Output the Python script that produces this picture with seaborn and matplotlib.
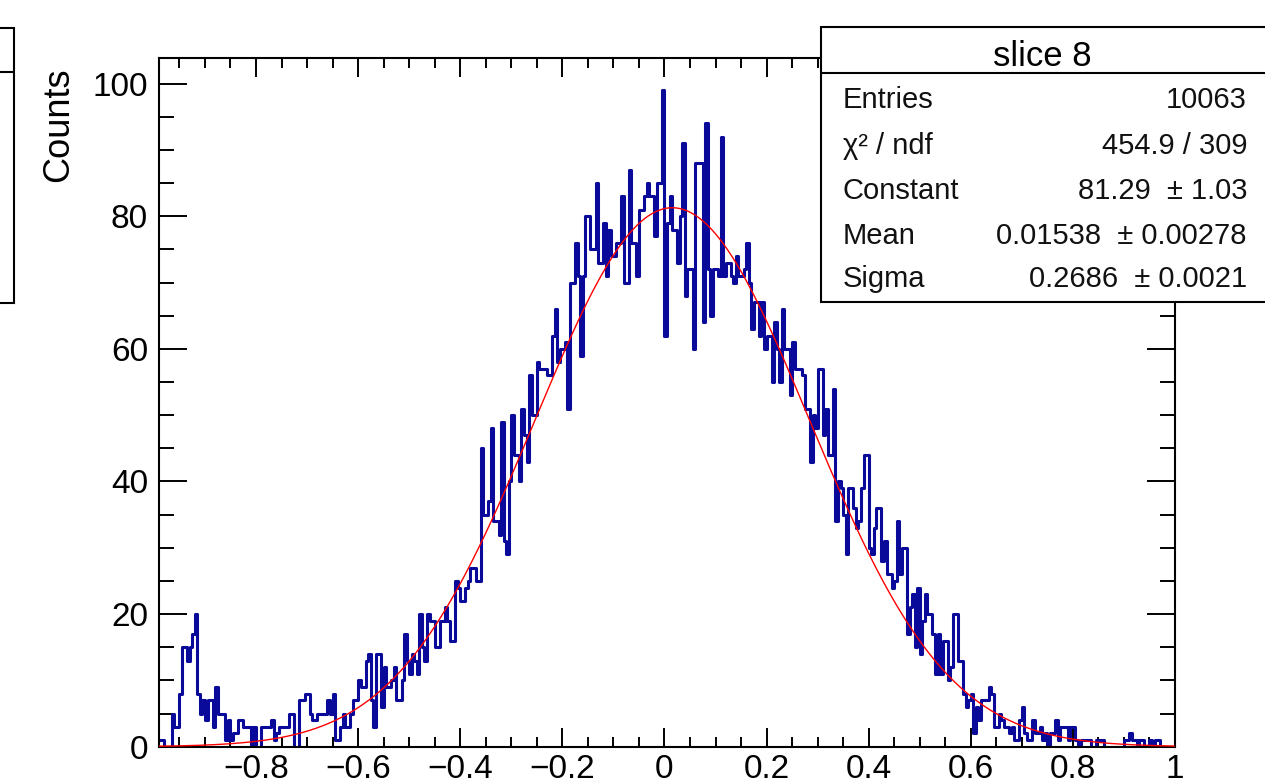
import numpy as np
import pandas as pd
import matplotlib
matplotlib.use("Agg")
import matplotlib.pyplot as plt
from matplotlib.patches import Rectangle
from matplotlib.lines import Line2D
from matplotlib.ticker import FixedLocator, MultipleLocator
import seaborn as sns

# Slice 8 residual histogram: bins of width 0.005 starting at -0.99
X_MIN = -0.99
X_MAX = 1.0
BIN_WIDTH = 0.005
counts = [
    1, 1, 0, 0, 0, 5, 3, 3, 8, 15,
    15, 13, 15, 17, 20, 8, 5, 7, 4, 7,
    7, 3, 9, 5, 5, 5, 1, 4, 1, 2,
    2, 4, 4, 3, 3, 3, 0, 3, 0, 0,
    3, 3, 3, 3, 4, 1, 2, 3, 3, 3,
    3, 5, 5, 0, 0, 7, 7, 8, 8, 5,
    4, 4, 5, 5, 5, 5, 7, 5, 8, 1,
    1, 3, 5, 3, 3, 5, 7, 7, 10, 9,
    9, 13, 14, 7, 3, 14, 14, 6, 12, 9,
    9, 10, 12, 7, 7, 10, 17, 13, 11, 14,
    13, 11, 20, 15, 13, 20, 19, 19, 15, 15,
    19, 19, 21, 19, 16, 16, 25, 24, 22, 22,
    24, 25, 27, 27, 25, 25, 45, 35, 35, 37,
    48, 34, 34, 32, 49, 31, 29, 40, 50, 44,
    44, 40, 51, 47, 43, 56, 50, 50, 58, 57,
    57, 57, 56, 56, 62, 66, 58, 60, 60, 61,
    51, 70, 70, 76, 71, 59, 71, 80, 80, 75,
    75, 85, 73, 73, 79, 71, 78, 74, 74, 76,
    76, 83, 70, 70, 87, 76, 76, 71, 81, 81,
    83, 85, 83, 83, 77, 85, 85, 99, 62, 79,
    83, 78, 78, 73, 80, 91, 68, 72, 72, 60,
    88, 88, 88, 64, 94, 72, 65, 72, 72, 71,
    92, 71, 73, 73, 71, 70, 74, 71, 71, 72,
    76, 70, 63, 67, 67, 62, 67, 60, 62, 62,
    55, 64, 60, 55, 66, 60, 60, 53, 61, 57,
    57, 57, 56, 51, 51, 43, 50, 48, 57, 57,
    47, 51, 44, 44, 54, 34, 40, 39, 35, 29,
    39, 39, 36, 33, 34, 39, 44, 44, 30, 29,
    33, 36, 36, 28, 31, 26, 26, 24, 25, 34,
    26, 30, 30, 17, 21, 23, 15, 24, 14, 19,
    23, 20, 20, 17, 11, 17, 11, 16, 16, 10,
    12, 20, 20, 13, 13, 8, 6, 7, 8, 2,
    6, 4, 7, 7, 7, 9, 8, 3, 3, 5,
    4, 3, 3, 2, 3, 1, 1, 4, 6, 2,
    1, 1, 4, 2, 2, 3, 1, 2, 0, 2,
    2, 4, 1, 3, 3, 3, 1, 3, 3, 1,
    0, 1, 1, 1, 1, 0, 0, 1, 1, 1,
    0, 0, 0, 0, 0, 0, 0, 0, 1, 1,
    2, 1, 1, 0, 1, 1, 0, 0, 1, 0,
    1, 1, 0, 0, 0, 0, 0, 0,
]

# Gaussian fit parameters
fit_constant = 81.29
fit_mean = 0.01538
fit_sigma = 0.2686

stats_title = "slice 8"
stats_labels = ["Entries", "χ² / ndf", "Constant", "Mean", "Sigma"]
stats_values = ["10063", "454.9 / 309", "81.29  ± 1.03",
                "0.01538  ± 0.00278", "0.2686  ± 0.0021"]

x_ticks = [-0.8, -0.6, -0.4, -0.2, 0.0, 0.2, 0.4, 0.6, 0.8, 1.0]
x_tick_labels = ["−0.8", "−0.6", "−0.4", "−0.2", "0", "0.2", "0.4", "0.6", "0.8", "1"]
y_ticks = [0, 20, 40, 60, 80, 100]
y_label = "Counts"

sns.set_theme(style="ticks")
plt.rcParams["font.family"] = ["Liberation Sans", "DejaVu Sans"]
plt.rcParams["axes.edgecolor"] = "black"

W, H = 1265, 781
fig = plt.figure(figsize=(W / 100, H / 100), dpi=100, facecolor="white")


def fx(px):
    return px / W


def fy(py):
    return 1 - py / H


ax = fig.add_axes([fx(159), fy(746.7), fx(1175) - fx(159), fy(57.5) - fy(746.7)])
ax.set_facecolor("white")

# histogram outline
edges = [X_MIN + BIN_WIDTH * i for i in range(len(counts) + 1)]
centers = [0.5 * (a + b) for a, b in zip(edges[:-1], edges[1:])]
hist_df = pd.DataFrame({"residual": centers, "entries": counts})
sns.histplot(data=hist_df, x="residual", weights="entries", bins=edges,
             element="step", fill=False, color="#0a0a9a", linewidth=2.2, ax=ax)

# fitted Gaussian
xs = np.linspace(X_MIN, X_MAX, 1200)
gauss = fit_constant * np.exp(-0.5 * ((xs - fit_mean) / fit_sigma) ** 2)
sns.lineplot(x=xs, y=gauss, color="#ff0000", linewidth=1.0, estimator=None,
             ax=ax, zorder=3)

ax.set_xlim(X_MIN, X_MAX)
ax.set_ylim(0, 99 * 1.05)
ax.set_xlabel("")
ax.set_ylabel(y_label, loc="top", fontsize=26, color="black")
ax.yaxis.set_label_coords(-0.082, 0.985)

ax.xaxis.set_major_locator(FixedLocator(x_ticks))
ax.set_xticklabels(x_tick_labels)
ax.xaxis.set_minor_locator(MultipleLocator(0.05))
ax.yaxis.set_major_locator(FixedLocator(y_ticks))
ax.yaxis.set_minor_locator(MultipleLocator(5))

ax.tick_params(axis="both", which="both", direction="in", top=True, right=True,
               labelsize=24, colors="black")
ax.tick_params(axis="x", which="major", length=14, width=1.4, pad=5)
ax.tick_params(axis="x", which="minor", length=7, width=1.4)
ax.tick_params(axis="y", which="major", length=20, width=1.4, pad=8)
ax.tick_params(axis="y", which="minor", length=10.5, width=1.4)
for s in ax.spines.values():
    s.set_linewidth(1.5)
    s.set_color("black")

# statistics box (top right)
fig.add_artist(Rectangle((fx(821), fy(302)), fx(1300) - fx(821), fy(27) - fy(302),
                         transform=fig.transFigure, facecolor="white",
                         edgecolor="black", linewidth=1.5, zorder=5))
fig.add_artist(Line2D([fx(821), fx(1300)], [fy(73), fy(73)], transform=fig.transFigure,
                      color="black", linewidth=1.5, zorder=6))
fig.text(fx(1042), fy(66.5), stats_title, ha="center", va="baseline",
         fontsize=25, color="black", zorder=7)
baselines = [108, 154, 199, 244, 287]
for lab, val, yb in zip(stats_labels, stats_values, baselines):
    fig.text(fx(843), fy(yb), lab, ha="left", va="baseline", fontsize=21,
             color="#111111", zorder=7)
    fig.text(fx(1247), fy(yb), val, ha="right", va="baseline", fontsize=21,
             color="#111111", zorder=7)

# neighbouring panel's box at the left edge
fig.add_artist(Rectangle((fx(-40), fy(303)), fx(14) - fx(-40), fy(27.7) - fy(303),
                         transform=fig.transFigure, facecolor="white",
                         edgecolor="black", linewidth=1.5, zorder=5))
fig.add_artist(Line2D([fx(-40), fx(14)], [fy(72), fy(72)], transform=fig.transFigure,
                      color="black", linewidth=1.5, zorder=6))

fig.savefig("out.png", dpi=100, facecolor="white")
